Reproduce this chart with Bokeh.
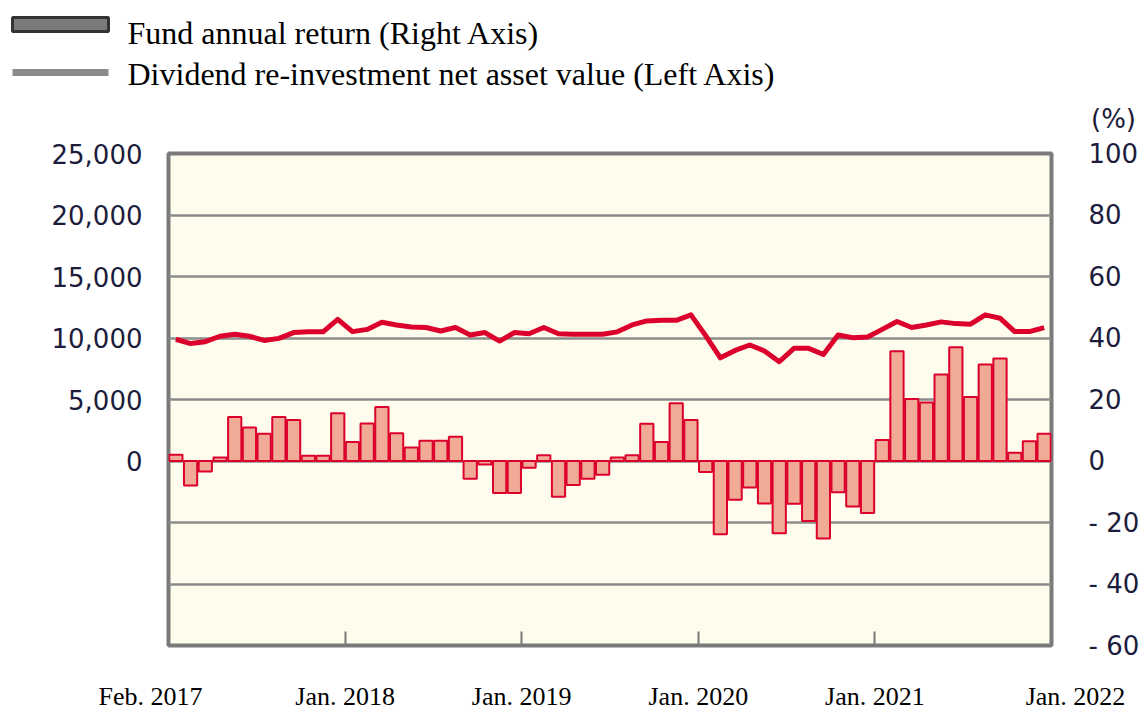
from bokeh.plotting import figure
from bokeh.layouts import column
from bokeh.models import (ColumnDataSource, Range1d, LinearAxis, FixedTicker, NumeralTickFormatter,
                          CustomJSTickFormatter)
from bokeh.core.properties import value
from bokeh.embed import file_html
from bokeh.resources import INLINE

# ---- data (monthly, Feb 2017 .. Jan 2022) ----
months = ["2017-02", "2017-03", "2017-04", "2017-05", "2017-06", "2017-07", "2017-08", "2017-09",
          "2017-10", "2017-11", "2017-12", "2018-01", "2018-02", "2018-03", "2018-04", "2018-05",
          "2018-06", "2018-07", "2018-08", "2018-09", "2018-10", "2018-11", "2018-12", "2019-01",
          "2019-02", "2019-03", "2019-04", "2019-05", "2019-06", "2019-07", "2019-08", "2019-09",
          "2019-10", "2019-11", "2019-12", "2020-01", "2020-02", "2020-03", "2020-04", "2020-05",
          "2020-06", "2020-07", "2020-08", "2020-09", "2020-10", "2020-11", "2020-12", "2021-01",
          "2021-02", "2021-03", "2021-04", "2021-05", "2021-06", "2021-07", "2021-08", "2021-09",
          "2021-10", "2021-11", "2021-12", "2022-01"]

annual_return = [2.0, -8.0, -3.4, 1.1, 14.3, 10.9, 8.9, 14.3, 13.3, 1.7, 1.7, 15.5,
                 6.2, 12.2, 17.6, 9.0, 4.4, 6.6, 6.6, 7.9, -5.8, -1.1, -10.4, -10.4,
                 -2.2, 1.9, -11.6, -7.8, -5.8, -4.5, 1.1, 1.9, 12.1, 6.2, 18.8, 13.3,
                 -3.6, -23.8, -12.6, -8.6, -13.8, -23.5, -13.9, -19.5, -25.2, -10.2, -14.8, -16.9,
                 6.8, 35.7, 20.2, 19.0, 28.1, 37.0, 20.8, 31.4, 33.3, 2.7, 6.4, 8.9]

nav = [9900, 9550, 9700, 10140, 10300, 10140, 9800, 9970, 10440, 10500, 10500, 11520,
       10520, 10700, 11280, 11060, 10900, 10850, 10570, 10850, 10250, 10440, 9750, 10440,
       10350, 10850, 10350, 10300, 10300, 10300, 10500, 11060, 11390, 11440, 11440, 11880,
       10190, 8390, 8990, 9430, 8940, 8070, 9160, 9160, 8660, 10250, 10030, 10080,
       10700, 11340, 10850, 11060, 11310, 11170, 11120, 11880, 11610, 10520, 10520, 10850]

left_ticks = [0, 5000, 10000, 15000, 20000, 25000]
grid_ticks = [-15000, -10000, -5000, 0, 5000, 10000, 15000, 20000, 25000]
right_ticks = [-60, -40, -20, 0, 20, 40, 60, 80, 100]
right_labels = {-60: "- 60", -40: "- 40", -20: "- 20"}
x_label_texts = ["Feb. 2017", "Jan. 2018", "Jan. 2019", "Jan. 2020", "Jan. 2021", "Jan. 2022"]
legend_texts = ["Fund annual return (Right Axis)", "Dividend re-investment net asset value (Left Axis)"]
unit_text = "(%)"

# ---- layout constants (pixels) ----
W, H = 1146, 712
TOP_H = 136          # header strip with the legend
BOT_H = 47           # footer strip with the x labels
FR_L, FR_R = 168, 95  # frame margins left / right
FR_T, FR_B = 17, 20
MAIN_H = H - TOP_H - BOT_H

RED = "#DC002C"
GRAY = "#7a7a7a"
TXT = "#1c1c3c"
SERIF = "Liberation Serif"

# ---- derived ----
n = len(months)
idx = list(range(n))
src = ColumnDataSource(dict(x=idx, ret=annual_return, nav=nav, month=months))
jan_ticks = [i + 0.5 for i, m in enumerate(months) if m.endswith("-01")]
label_x = [-0.5] + jan_ticks
label_off = [-18, 0, 0, 0, 0, 24]

x0, x1 = -0.5, n - 0.5
px_per_unit = (W - FR_L - FR_R) / (x1 - x0)

# ---- header: legend ----
top = figure(width=W, height=TOP_H, output_backend="svg", toolbar_location=None,
             x_range=Range1d(0, W), y_range=Range1d(TOP_H, 0),
             x_axis_type=None, y_axis_type=None, min_border=0, frame_align=False,
             outline_line_color=None, background_fill_color="white", border_fill_color="white")
top.grid.visible = False
top.quad(left=[12], right=[108], top=[17], bottom=[31], fill_color="#7a7a7a",
         line_color="#333333", line_width=3)
top.line(x=[12, 108], y=[72, 72], line_color="#8a8a8a", line_width=7)
top.text(x=[127, 127], y=[32, 73], text=legend_texts, text_font=value(SERIF),
         text_font_size=value("32px"), text_baseline="middle", text_align="left",
         text_color="black")
top.text(x=[1113], y=[118], text=[unit_text], text_font=value("DejaVu Sans"),
         text_font_size=value("26px"), text_baseline="middle", text_align="center",
         text_color=TXT)

# ---- main chart ----
p = figure(width=W, height=MAIN_H, output_backend="svg", toolbar_location=None,
           x_range=Range1d(x0, x1), y_range=Range1d(-15000, 25000), frame_align=False,
           min_border_left=FR_L, min_border_right=FR_R, min_border_top=FR_T, min_border_bottom=FR_B,
           background_fill_color="#FEFCEC", border_fill_color="white",
           outline_line_color=GRAY, outline_line_width=4)
p.extra_y_ranges = {"pct": Range1d(-60, 100)}

p.xgrid.visible = False
p.ygrid.ticker = FixedTicker(ticks=grid_ticks)
p.ygrid.grid_line_color = "#8c8c8c"
p.ygrid.grid_line_width = 2.5

ly = p.yaxis[0]
ly.ticker = FixedTicker(ticks=left_ticks)
ly.formatter = NumeralTickFormatter(format="0,0")
ly.axis_line_color = None
ly.major_tick_in = 0
ly.major_tick_out = 0
ly.minor_tick_line_color = None
ly.major_label_standoff = 26
ly.major_label_text_font = "DejaVu Sans"
ly.major_label_text_font_size = "26px"
ly.major_label_text_color = TXT

ry = LinearAxis(y_range_name="pct", ticker=FixedTicker(ticks=right_ticks),
                major_label_overrides=right_labels)
ry.axis_line_color = None
ry.major_tick_in = 0
ry.major_tick_out = 0
ry.minor_tick_line_color = None
ry.major_label_standoff = 37
ry.major_label_text_font = "DejaVu Sans"
ry.major_label_text_font_size = "26px"
ry.major_label_text_color = TXT
p.add_layout(ry, "right")

bx = p.xaxis[0]
bx.ticker = FixedTicker(ticks=jan_ticks)
bx.formatter = CustomJSTickFormatter(code="return ''")
bx.major_label_text_font_size = "1px"
bx.major_label_standoff = 0
bx.axis_line_color = None
bx.major_tick_in = 14
bx.major_tick_out = 0
bx.major_tick_line_color = GRAY
bx.major_tick_line_width = 2
bx.minor_tick_line_color = None

p.vbar(x="x", top="ret", bottom=0, width=0.9, source=src, y_range_name="pct",
       fill_color="#F0AA96", line_color=RED, line_width=2)
p.line(x="x", y="nav", source=src, line_color=RED, line_width=5, line_join="round")

# ---- footer: x labels aligned with the main frame ----
bot = figure(width=W, height=BOT_H, output_backend="svg", toolbar_location=None,
             x_range=Range1d(x0 - FR_L / px_per_unit, x1 + FR_R / px_per_unit),
             y_range=Range1d(BOT_H, 0), frame_align=False,
             x_axis_type=None, y_axis_type=None, min_border=0,
             outline_line_color=None, background_fill_color="white", border_fill_color="white")
bot.grid.visible = False
lab_src = ColumnDataSource(dict(x=label_x, off=label_off, text=x_label_texts))
bot.text(x="x", y=31, text="text", x_offset="off", source=lab_src, text_font=value(SERIF),
         text_font_size=value("26px"), text_baseline="middle", text_align="center",
         text_color="black")

layout = column(top, p, bot, spacing=0)
open("out.html", "w").write(file_html(layout, INLINE))
